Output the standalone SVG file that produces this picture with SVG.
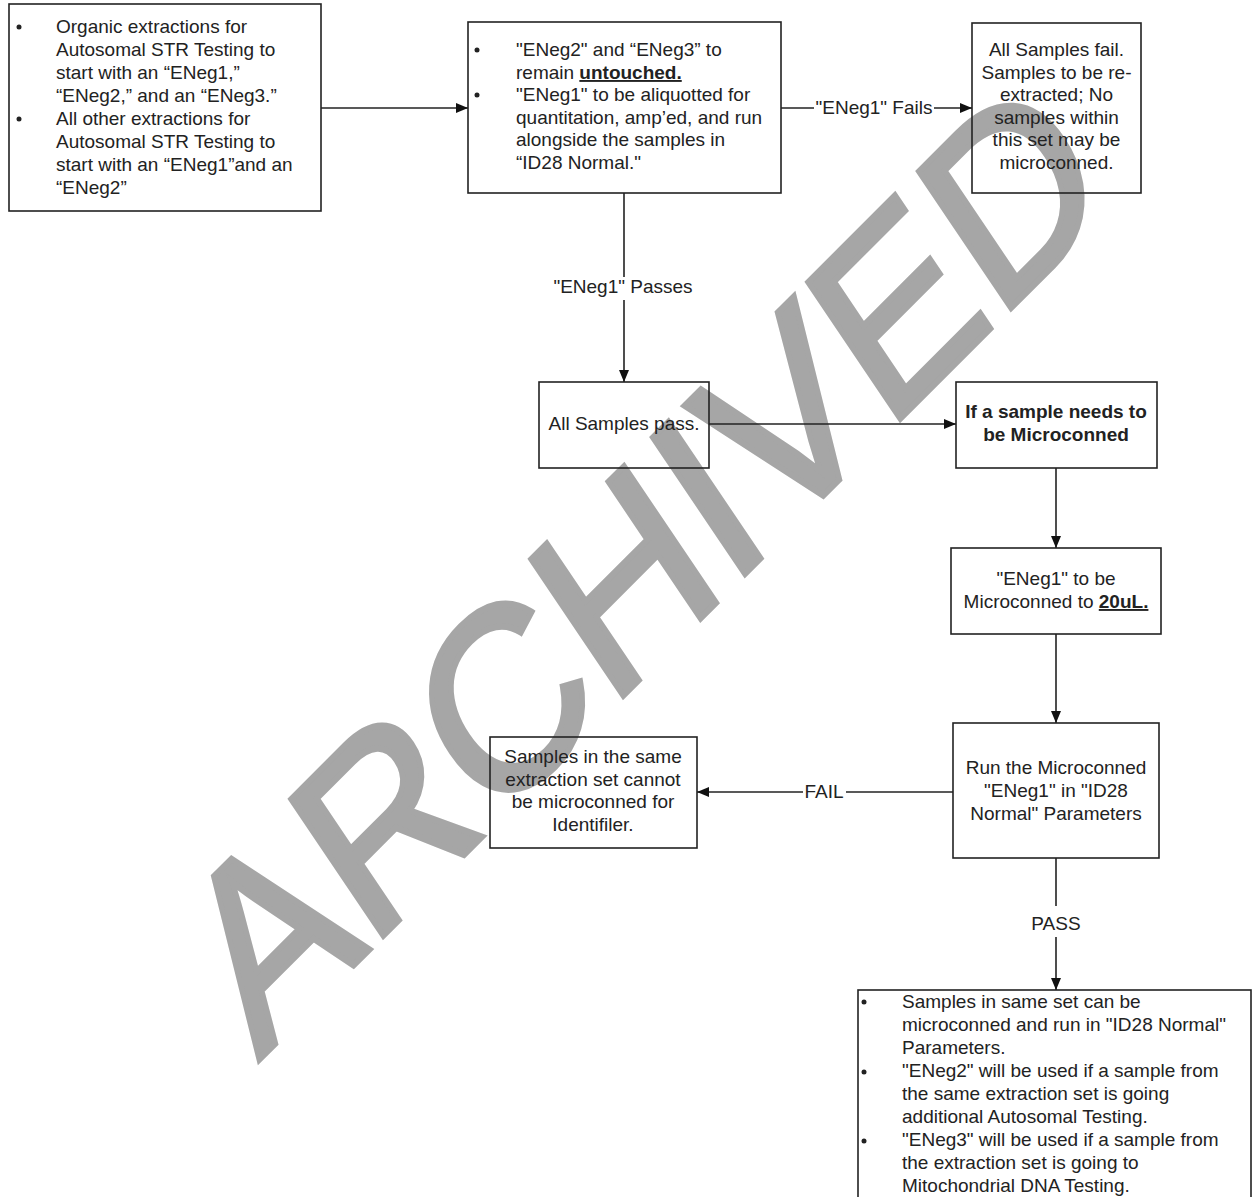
<svg xmlns="http://www.w3.org/2000/svg" width="1253" height="1197" viewBox="0 0 1253 1197">
<defs>
<style>
.box{fill:none;stroke:#222;stroke-width:1.6}
.ln{fill:none;stroke:#222;stroke-width:1.6}
.t{font-family:"Liberation Sans",Arial,sans-serif;font-size:19px;fill:#222}
.c{text-anchor:middle}
.b{font-weight:bold}
.u{text-decoration:underline}
.dot{fill:#222}
.wm{font-family:"Liberation Sans",Arial,sans-serif;font-size:235px;fill:#a6a6a6;stroke:#a6a6a6;stroke-width:6;stroke-linejoin:miter}
</style>
<marker id="arr" viewBox="0 0 12 10" refX="12" refY="5" markerWidth="12" markerHeight="10" markerUnits="userSpaceOnUse" orient="auto">
<path d="M0,0 L12,5 L0,10 z" fill="#111"/>
</marker>
</defs>
<rect width="1253" height="1197" fill="#fff"/>
<g id="watermark">
<text class="wm" transform="translate(259,1060) rotate(-45) skewX(-11)">ARCHIVED</text>
</g>
<g id="connectors">
<line class="ln" x1="321" y1="108" x2="468" y2="108" marker-end="url(#arr)"/>
<line class="ln" x1="781" y1="108" x2="814" y2="108"/>
<line class="ln" x1="934" y1="108" x2="972" y2="108" marker-end="url(#arr)"/>
<text class="t c" x="874" y="114">"ENeg1" Fails</text>
<line class="ln" x1="624" y1="193" x2="624" y2="277"/>
<line class="ln" x1="624" y1="300" x2="624" y2="382" marker-end="url(#arr)"/>
<text class="t c" x="623" y="293">"ENeg1" Passes</text>
<line class="ln" x1="709" y1="424" x2="956" y2="424" marker-end="url(#arr)"/>
<line class="ln" x1="1056" y1="468" x2="1056" y2="548" marker-end="url(#arr)"/>
<line class="ln" x1="1056" y1="634" x2="1056" y2="723" marker-end="url(#arr)"/>
<line class="ln" x1="953" y1="792" x2="846" y2="792"/>
<line class="ln" x1="803" y1="792" x2="697" y2="792" marker-end="url(#arr)"/>
<text class="t c" x="824" y="798">FAIL</text>
<line class="ln" x1="1056" y1="858" x2="1056" y2="906"/>
<line class="ln" x1="1056" y1="937" x2="1056" y2="990" marker-end="url(#arr)"/>
<text class="t c" x="1056" y="930">PASS</text>
</g>
<g id="n1">
<rect class="box" x="9" y="4" width="312" height="207"/>
<circle class="dot" cx="19" cy="27" r="2.5"/>
<circle class="dot" cx="19" cy="119" r="2.5"/>
<text class="t" x="56" y="33">Organic extractions for</text>
<text class="t" x="56" y="56">Autosomal STR Testing to</text>
<text class="t" x="56" y="79">start with an “ENeg1,”</text>
<text class="t" x="56" y="102">“ENeg2,” and an “ENeg3.”</text>
<text class="t" x="56" y="125">All other extractions for</text>
<text class="t" x="56" y="148">Autosomal STR Testing to</text>
<text class="t" x="56" y="171">start with an “ENeg1”and an</text>
<text class="t" x="56" y="194">“ENeg2”</text>
</g>
<g id="n2">
<rect class="box" x="468" y="22" width="313" height="171"/>
<circle class="dot" cx="477" cy="50" r="2.5"/>
<circle class="dot" cx="477" cy="95" r="2.5"/>
<text class="t" x="516" y="56">"ENeg2" and “ENeg3” to</text>
<text class="t" x="516" y="79">remain <tspan class="b u">untouched.</tspan></text>
<text class="t" x="516" y="101">"ENeg1" to be aliquotted for</text>
<text class="t" x="516" y="124">quantitation, amp’ed, and run</text>
<text class="t" x="516" y="146">alongside the samples in</text>
<text class="t" x="516" y="169">“ID28 Normal."</text>
</g>
<g id="n3">
<rect class="box" x="972" y="23" width="169" height="170"/>
<text class="t c" x="1056.5" y="56">All Samples fail.</text>
<text class="t c" x="1056.5" y="79">Samples to be re-</text>
<text class="t c" x="1056.5" y="101">extracted; No</text>
<text class="t c" x="1056.5" y="124">samples within</text>
<text class="t c" x="1056.5" y="146">this set may be</text>
<text class="t c" x="1056.5" y="169">microconned.</text>
</g>
<g id="n4">
<rect class="box" x="539" y="382" width="170" height="86"/>
<text class="t c" x="624" y="430">All Samples pass.</text>
</g>
<g id="n5">
<rect class="box" x="956" y="382" width="201" height="86"/>
<text class="t c b" x="1056" y="418">If a sample needs to</text>
<text class="t c b" x="1056" y="441">be Microconned</text>
</g>
<g id="n6">
<rect class="box" x="951" y="548" width="210" height="86"/>
<text class="t c" x="1056" y="585">"ENeg1" to be</text>
<text class="t c" x="1056" y="608">Microconned to <tspan class="b u">20uL.</tspan></text>
</g>
<g id="n7">
<rect class="box" x="953" y="723" width="206" height="135"/>
<text class="t c" x="1056" y="774">Run the Microconned</text>
<text class="t c" x="1056" y="797">"ENeg1" in "ID28</text>
<text class="t c" x="1056" y="820">Normal" Parameters</text>
</g>
<g id="n8">
<rect class="box" x="490" y="737" width="207" height="111"/>
<text class="t c" x="593" y="763">Samples in the same</text>
<text class="t c" x="593" y="786">extraction set cannot</text>
<text class="t c" x="593" y="808">be microconned for</text>
<text class="t c" x="593" y="831">Identifiler.</text>
</g>
<g id="n9">
<rect class="box" x="858" y="990" width="393" height="215"/>
<circle class="dot" cx="864" cy="1002" r="2.5"/>
<circle class="dot" cx="864" cy="1072" r="2.5"/>
<circle class="dot" cx="864" cy="1141" r="2.5"/>
<text class="t" x="902" y="1008">Samples in same set can be</text>
<text class="t" x="902" y="1031">microconned and run in "ID28 Normal"</text>
<text class="t" x="902" y="1054">Parameters.</text>
<text class="t" x="902" y="1077">"ENeg2" will be used if a sample from</text>
<text class="t" x="902" y="1100">the same extraction set is going</text>
<text class="t" x="902" y="1123">additional Autosomal Testing.</text>
<text class="t" x="902" y="1146">"ENeg3" will be used if a sample from</text>
<text class="t" x="902" y="1169">the extraction set is going to</text>
<text class="t" x="902" y="1192">Mitochondrial DNA Testing.</text>
</g>
</svg>
